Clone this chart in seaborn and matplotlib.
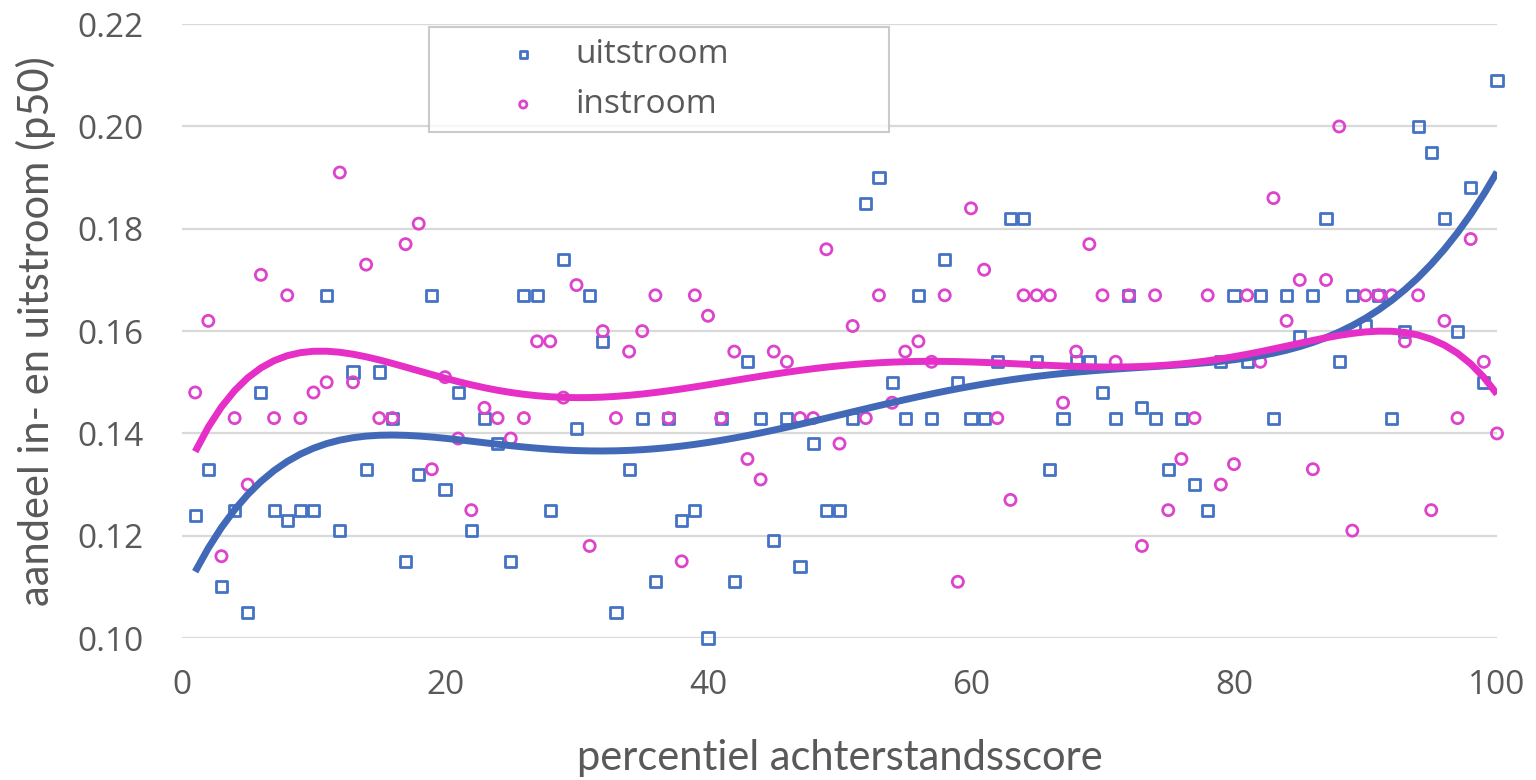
import matplotlib
matplotlib.use("Agg")
import matplotlib.pyplot as plt
import seaborn as sns
import pandas as pd

# percentile of the disadvantage score (x-axis)
percentiel = list(range(1, 101))

# median share of outflow per percentile (blue squares)
uitstroom = [
    0.124, 0.133, 0.110, 0.125, 0.105, 0.148, 0.125, 0.123, 0.125, 0.125,
    0.167, 0.121, 0.152, 0.133, 0.152, 0.143, 0.115, 0.132, 0.167, 0.129,
    0.148, 0.121, 0.143, 0.138, 0.115, 0.167, 0.167, 0.125, 0.174, 0.141,
    0.167, 0.158, 0.105, 0.133, 0.143, 0.111, 0.143, 0.123, 0.125, 0.100,
    0.143, 0.111, 0.154, 0.143, 0.119, 0.143, 0.114, 0.138, 0.125, 0.125,
    0.143, 0.185, 0.190, 0.150, 0.143, 0.167, 0.143, 0.174, 0.150, 0.143,
    0.143, 0.154, 0.182, 0.182, 0.154, 0.133, 0.143, 0.154, 0.154, 0.148,
    0.143, 0.167, 0.145, 0.143, 0.133, 0.143, 0.130, 0.125, 0.154, 0.167,
    0.154, 0.167, 0.143, 0.167, 0.159, 0.167, 0.182, 0.154, 0.167, 0.161,
    0.167, 0.143, 0.160, 0.200, 0.195, 0.182, 0.160, 0.188, 0.150, 0.209,
]

# median share of inflow per percentile (magenta circles)
instroom = [
    0.148, 0.162, 0.116, 0.143, 0.130, 0.171, 0.143, 0.167, 0.143, 0.148,
    0.150, 0.191, 0.150, 0.173, 0.143, 0.143, 0.177, 0.181, 0.133, 0.151,
    0.139, 0.125, 0.145, 0.143, 0.139, 0.143, 0.158, 0.158, 0.147, 0.169,
    0.118, 0.160, 0.143, 0.156, 0.160, 0.167, 0.143, 0.115, 0.167, 0.163,
    0.143, 0.156, 0.135, 0.131, 0.156, 0.154, 0.143, 0.143, 0.176, 0.138,
    0.161, 0.143, 0.167, 0.146, 0.156, 0.158, 0.154, 0.167, 0.111, 0.184,
    0.172, 0.143, 0.127, 0.167, 0.167, 0.167, 0.146, 0.156, 0.177, 0.167,
    0.154, 0.167, 0.118, 0.167, 0.125, 0.135, 0.143, 0.167, 0.130, 0.134,
    0.167, 0.154, 0.186, 0.162, 0.170, 0.133, 0.170, 0.200, 0.121, 0.167,
    0.167, 0.167, 0.158, 0.167, 0.125, 0.162, 0.143, 0.178, 0.154, 0.140,
]

y_ticks = [0.10, 0.12, 0.14, 0.16, 0.18, 0.20, 0.22]
x_ticks = [0, 20, 40, 60, 80, 100]

BLUE = "#4472C4"
BLUE_LINE = "#4169B8"
PINK = "#DD44CC"
PINK_LINE = "#E52FC6"
GREY_TXT = "#595959"

df = pd.DataFrame({
    "percentiel": percentiel,
    "uitstroom": uitstroom,
    "instroom": instroom,
})

sns.set_theme(style="white")
plt.rcParams["font.family"] = ["Open Sans", "DejaVu Sans"]

fig = plt.figure(figsize=(15.36, 7.8), dpi=100)
ax = fig.add_axes([0.1185, 0.182, 0.8561, 0.787])

#######################################################
### scatter + polynomial trend lines (6th order)

sns.scatterplot(
    data=df, x="percentiel", y="uitstroom",
    marker="s", s=64, facecolor="none", edgecolor=BLUE,
    linewidth=2, label="uitstroom", ax=ax, clip_on=False, zorder=3
)

sns.scatterplot(
    data=df, x="percentiel", y="instroom",
    marker="o", s=64, facecolor="none", edgecolor=PINK,
    linewidth=2, label="instroom", ax=ax, clip_on=False, zorder=3
)

sns.regplot(
    data=df, x="percentiel", y="uitstroom",
    order=6, ci=None, scatter=False, ax=ax,
    line_kws=dict(color=BLUE_LINE, lw=5, solid_capstyle="butt", zorder=4)
)

sns.regplot(
    data=df, x="percentiel", y="instroom",
    order=6, ci=None, scatter=False, ax=ax,
    line_kws=dict(color=PINK_LINE, lw=5, solid_capstyle="butt", zorder=5)
)

#######################################################
### axes styling

ax.set_xlim(0, 100)
ax.set_ylim(0.10, 0.22)
ax.set_xticks(x_ticks)
ax.set_yticks(y_ticks)
ax.set_yticklabels([f"{v:.2f}" for v in y_ticks])

ax.yaxis.grid(True, color="#D9D9D9", lw=1.6)
ax.xaxis.grid(False)
ax.set_axisbelow(True)

for sp in ax.spines.values():
    sp.set_visible(False)

ax.tick_params(axis="y", length=0, pad=28, labelsize=24, labelcolor=GREY_TXT)
ax.tick_params(axis="x", length=0, pad=22, labelsize=24, labelcolor=GREY_TXT)

ax.set_xlabel("percentiel achterstandsscore", fontsize=30, color=GREY_TXT,
              labelpad=27, family=["Lato", "DejaVu Sans"])
ax.set_ylabel("aandeel in- en uitstroom (p50)", fontsize=30, color=GREY_TXT,
              labelpad=15, family=["Lato", "DejaVu Sans"])

leg = ax.legend(
    loc="upper left",
    bbox_to_anchor=(0.188, 0.829, 0.35, 0.166),
    mode="expand",
    borderaxespad=0,
    fontsize=24,
    frameon=True,
    fancybox=False,
    handlelength=4.98,
    handletextpad=-0.93,
    borderpad=0.33,
    labelspacing=0.51,
    markerscale=0.65,
)
leg.get_frame().set_edgecolor("#BFBFBF")
leg.get_frame().set_linewidth(1.5)
for t in leg.get_texts():
    t.set_color(GREY_TXT)

fig.savefig("out.png", dpi=100)
